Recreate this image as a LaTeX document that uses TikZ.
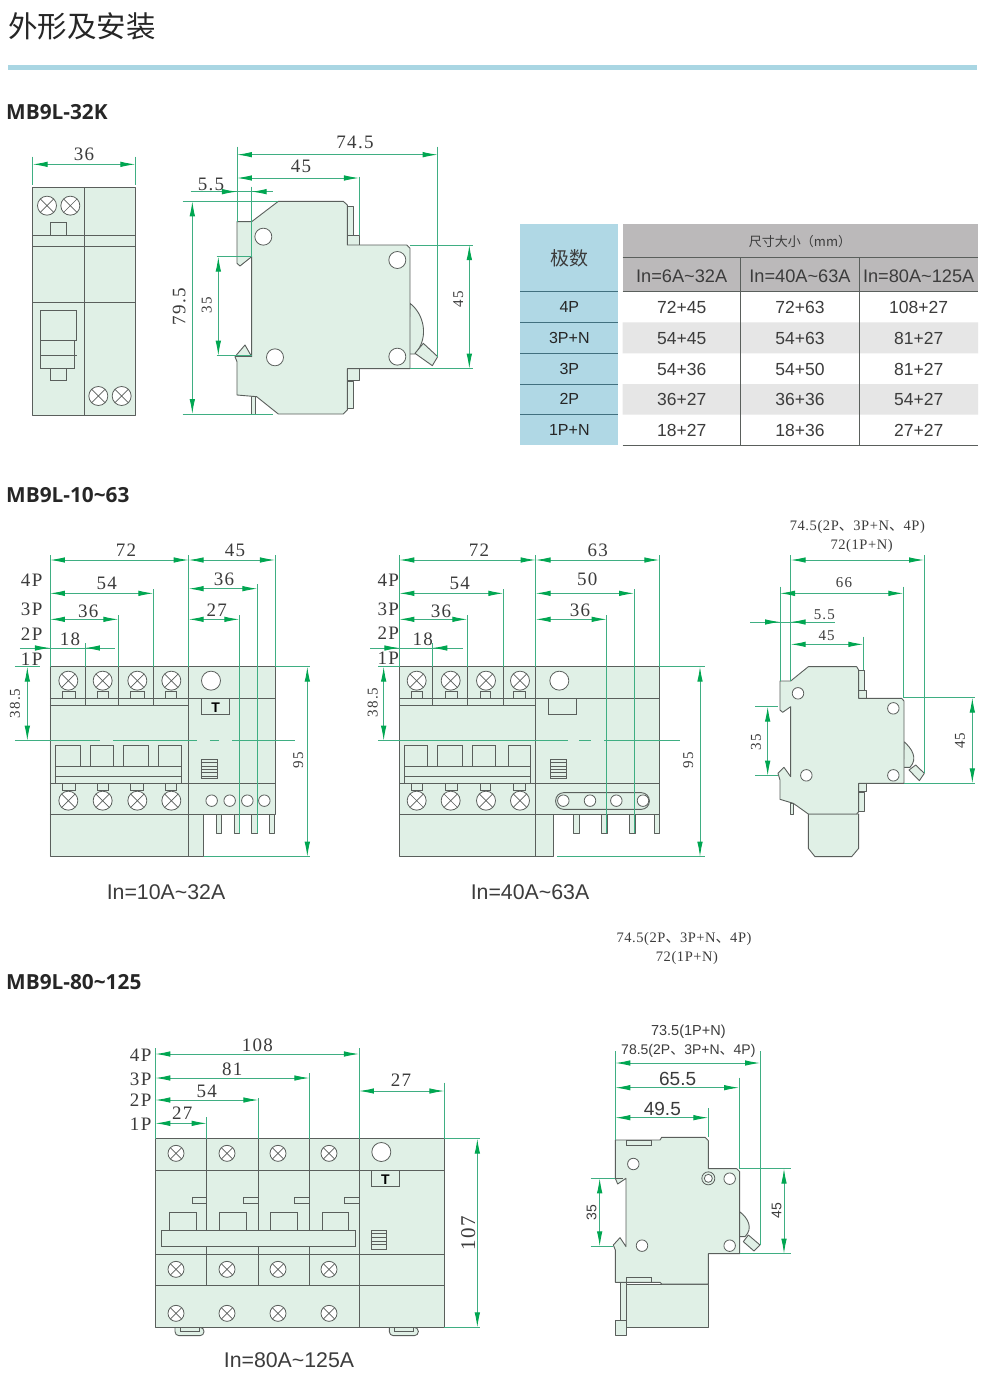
\documentclass[tikz,border=0pt]{standalone}
\usepackage{fontspec}
\setmainfont{Liberation Sans}
\newfontfamily\cjkfont{Noto Sans CJK SC}
\newfontfamily\headfont{Open Sans}
\newfontfamily\dimfont[LetterSpace=7]{Liberation Serif}
\newfontfamily\notefont[LetterSpace=4]{Liberation Serif}
\usetikzlibrary{arrows.meta}
\definecolor{bodygreen}{HTML}{E0F0E6}
\definecolor{linegray}{HTML}{5A5F5C}
\definecolor{extgreen}{HTML}{3FAE82}
\definecolor{tipgreen}{HTML}{00A651}
\definecolor{ruleblue}{HTML}{A9D6E3}
\definecolor{polecell}{HTML}{B0D8E5}
\definecolor{polerule}{HTML}{41707F}
\definecolor{headgray}{HTML}{BBB9BA}
\definecolor{rowgray}{HTML}{E6E6E6}
\definecolor{textgray}{HTML}{3C3C3C}
\begin{document}
\begin{tikzpicture}[x=1pt,y=-1pt]
\tikzstyle{crop} = [x=0.33333pt,y=-0.33333pt];
\tikzstyle{body} = [draw=linegray,fill=bodygreen,line width=0.9pt,line join=round];
\tikzstyle{part} = [draw=linegray,line width=0.9pt];
\tikzstyle{hole} = [circle,draw=linegray,fill=white,line width=0.8pt,inner sep=0pt];
\tikzstyle{screw} = [hole,path picture={\draw[linegray,line width=0.7pt] (path picture bounding box.south west) -- (path picture bounding box.north east) (path picture bounding box.north west) -- (path picture bounding box.south east);}];
\tikzstyle{extline} = [draw=extgreen,line width=0.9pt];
\tikzstyle{dimline} = [extline,{Latex[length=15pt,width=5.5pt,color=tipgreen]}-{Latex[length=15pt,width=5.5pt,color=tipgreen]}];
\tikzstyle{tipline} = [extline,-{Latex[length=15pt,width=5.5pt,color=tipgreen]}];
\tikzstyle{dimtext} = [font=\fontsize{19}{19}\dimfont,text=textgray,inner sep=0pt];
\tikzstyle{smalltext} = [font=\fontsize{15}{15}\dimfont,text=textgray,inner sep=0pt];
\tikzstyle{notetext} = [font=\fontsize{14.5}{14.5}\notefont,text=textgray,inner sep=0pt];
\tikzstyle{capt} = [font=\fontsize{21.3}{21.3}\selectfont,text=textgray,inner sep=0pt];
\tikzstyle{cell} = [font=\fontsize{17.5}{17.5}\selectfont,text=textgray,inner sep=0pt];
\tikzstyle{headcell} = [font=\fontsize{18.2}{18.2}\selectfont,text=textgray,inner sep=0pt];
\tikzstyle{polet} = [font=\fontsize{16}{16}\selectfont,text=black!85,inner sep=0pt];
\tikzstyle{heading} = [font=\fontsize{20.8}{20.8}\headfont\bfseries,text=black!85,inner sep=0pt,anchor=west];
\useasboundingbox (0,0) rectangle (985,1377);
\fill[white] (0,0) rectangle (985,1377);

\node[font=\fontsize{29.5}{29.5}\cjkfont,text=black!85,inner sep=0pt,anchor=west] (title) at (8,26) {外形及安装};
\fill[ruleblue] (8,64.5) rectangle (977,69.5);
\node[heading] (head1) at (6,112) {MB9L-32K};
\node[heading] (head2) at (6,495) {MB9L-10\textasciitilde 63};
\node[heading] (head3) at (6,982) {MB9L-80\textasciitilde 125};

% MB9L-32K front
\begin{scope}[shift={(0,130)},crop]
\draw[body] (98,172) rectangle (406,856);
\draw[part] (252,172) -- (252,856) (98,315) -- (406,315) (98,350) -- (406,350) (98,517) -- (406,517);
\draw[part] (152,277) rectangle (200,315) (122,540) rectangle (230,630) (122,630) rectangle (224,714) (122,675) -- (230,675) (152,714) rectangle (200,750);
\node[screw,minimum size=19pt] (f1) at (141,227) {};
\node[screw,minimum size=19pt] (f2) at (211,227) {};
\node[screw,minimum size=19pt] (f3) at (295,798) {};
\node[screw,minimum size=19pt] (f4) at (365,798) {};
\draw[extline] (98,80) -- (98,165) (406,80) -- (406,165);
\draw[dimline] (98,103) -- (406,103);
\node[dimtext] (d36a) at (252,73) {36};
\end{scope}

% MB9L-32K side
\begin{scope}[shift={(0,130)},crop]
\draw[body] (1042,228) rectangle (1060,315) (1042,315) rectangle (1077,345) (1042,716) rectangle (1077,750) (1042,755) rectangle (1060,835) (755,800) rectangle (767,852);
\draw[body] (1230,520) .. controls (1270,550) and (1290,620) .. (1245,672) -- (1225,672) -- cycle;
\draw[body] (1245,670) -- (1270,640) -- (1313,680) -- (1297,707) -- cycle;
\draw[body] (711,275) -- (755,275) -- (835,214) -- (1030,214) -- (1042,225) -- (1042,345) -- (1220,345) -- (1230,355) -- (1230,716) -- (1042,716) -- (1042,840) -- (1030,852) -- (835,852) -- (770,800) -- (711,795) -- (711,695) -- (705,680) -- (735,645) -- (755,680) -- (755,380) -- (720,408) -- (711,400) -- cycle;
\draw[part] (711,275) -- (755,275) -- (755,380) (705,680) -- (755,680);
\node[hole,minimum size=17pt] (c1) at (790,320) {};
\node[hole,minimum size=17pt] (c2) at (1192,390) {};
\node[hole,minimum size=17pt] (c3) at (825,682) {};
\node[hole,minimum size=17pt] (c4) at (1192,680) {};
\draw[extline] (711,50) -- (711,275) (755,170) -- (755,380) (1077,140) -- (1077,315) (1313,50) -- (1313,680);
\draw[extline] (548,214) -- (835,214) (548,852) -- (820,852) (650,380) -- (755,380) (650,677) -- (755,677) (1230,345) -- (1418,345) (1230,716) -- (1418,716) (572,185) -- (818,185);
\draw[dimline] (711,74) -- (1313,74);
\draw[dimline] (711,144) -- (1077,144);
\draw[dimline] (577,214) -- (577,852);
\draw[dimline] (655,380) -- (655,677);
\draw[dimline] (1408,345) -- (1408,716);
\draw[tipline] (680,185) -- (711,185);
\draw[tipline] (786,185) -- (755,185);
\node[dimtext] (d745a) at (1065,37) {74.5};
\node[dimtext] (d45a) at (903,108) {45};
\node[dimtext] (d55a) at (633,162) {5.5};
\node[dimtext,rotate=90] (d795) at (538,530) {79.5};
\node[smalltext,rotate=90] (d35a) at (620,525) {35};
\node[smalltext,rotate=90] (d45b) at (1375,508) {45};
\end{scope}

% size table
\begin{scope}[shift={(510,215)},crop]
\fill[polecell] (30,28) rectangle (325,690);
\fill[headgray] (338,28) rectangle (1404,230);
\fill[rowgray] (338,322) rectangle (1404,415) (338,507) rectangle (1404,599);
\draw[polerule,line width=1pt] (30,230) -- (325,230) (30,322) -- (325,322) (30,415) -- (325,415) (30,507) -- (325,507) (30,599) -- (325,599);
\draw[linegray,line width=1pt] (338,128) -- (1404,128) (338,230) -- (1404,230) (338,690) -- (1404,690) (692,128) -- (692,690) (1048,128) -- (1048,690);
\node[font=\fontsize{19}{19}\cjkfont,text=textgray,inner sep=0pt] (poles) at (178,130) {极数};
\node[font=\fontsize{13}{13}\cjkfont,text=textgray,inner sep=0pt] (size) at (870,80) {尺寸大小（mm）};
\node[headcell] (h1) at (515,183) {In=6A\textasciitilde 32A};
\node[headcell] (h2) at (870,183) {In=40A\textasciitilde 63A};
\node[headcell] (h3) at (1226,183) {In=80A\textasciitilde 125A};
\node[polet] (p1) at (178,277) {4P};
\node[polet] (p2) at (178,370) {3P+N};
\node[polet] (p3) at (178,463) {3P};
\node[polet] (p4) at (178,553) {2P};
\node[polet] (p5) at (178,645) {1P+N};
\node[cell] (a1) at (515,277) {72+45};
\node[cell] (b1) at (870,277) {72+63};
\node[cell] (e1) at (1226,277) {108+27};
\node[cell] (a2) at (515,370) {54+45};
\node[cell] (b2) at (870,370) {54+63};
\node[cell] (e2) at (1226,370) {81+27};
\node[cell] (a3) at (515,463) {54+36};
\node[cell] (b3) at (870,463) {54+50};
\node[cell] (e3) at (1226,463) {81+27};
\node[cell] (a4) at (515,553) {36+27};
\node[cell] (b4) at (870,553) {36+36};
\node[cell] (e4) at (1226,553) {54+27};
\node[cell] (a5) at (515,645) {18+27};
\node[cell] (b5) at (870,645) {18+36};
\node[cell] (e5) at (1226,645) {27+27};
\end{scope}

% MB9L-10~63, In=10A~32A
\begin{scope}[shift={(0,530)},crop]
\draw[body] (150,410) rectangle (825,852) (150,852) rectangle (611,980);
\draw[part] (566,410) -- (566,980) (150,505) -- (825,505) (150,525) -- (566,525) (150,760) -- (825,760) (150,852) -- (825,852) (255,410) -- (255,525) (355,410) -- (355,525) (460,410) -- (460,525);
\draw[part] (187,483) rectangle (227,505) (292,483) rectangle (325,505) (390,483) rectangle (432,505) (495,483) rectangle (530,505);
\draw[part] (187,760) rectangle (227,782) (292,760) rectangle (325,782) (390,760) rectangle (430,782) (497,760) rectangle (530,782);
\draw[part] (165,645) rectangle (241,710) (270,645) rectangle (340,710) (370,645) rectangle (446,710) (475,645) rectangle (545,710) (165,710) rectangle (545,760) (165,738) -- (545,738);
\draw[part] (605,505) rectangle (688,552) (603,688) rectangle (651,745) (603,698) -- (651,698) (603,708) -- (651,708) (603,718) -- (651,718) (603,728) -- (651,728) (603,738) -- (651,738);
\node[font=\fontsize{14}{14}\selectfont\bfseries,inner sep=0pt] (test1) at (647,533) {T};
\draw[body] (649,852) rectangle (665,910) (702,852) rectangle (718,910) (755,852) rectangle (771,910) (808,852) rectangle (824,910);
\node[screw,minimum size=19pt] (g1) at (205,452) {};
\node[screw,minimum size=19pt] (g2) at (308,452) {};
\node[screw,minimum size=19pt] (g3) at (412,452) {};
\node[screw,minimum size=19pt] (g4) at (514,452) {};
\node[screw,minimum size=19pt] (g5) at (205,812) {};
\node[screw,minimum size=19pt] (g6) at (308,812) {};
\node[screw,minimum size=19pt] (g7) at (412,812) {};
\node[screw,minimum size=19pt] (g8) at (514,812) {};
\node[hole,minimum size=19pt] (g9) at (633,452) {};
\node[hole,minimum size=11.5pt] (g10) at (635,812) {};
\node[hole,minimum size=11.5pt] (g11) at (689,812) {};
\node[hole,minimum size=11.5pt] (g12) at (742,812) {};
\node[hole,minimum size=11.5pt] (g13) at (793,812) {};
\draw[extline] (150,75) -- (150,410) (255,340) -- (255,410) (355,255) -- (355,410) (460,178) -- (460,410) (566,75) -- (566,410) (825,75) -- (825,410) (718,255) -- (718,910) (772,162) -- (772,910);
\draw[extline] (45,410) -- (120,410) (825,410) -- (930,410) (611,980) -- (930,980) (60,354) -- (345,354);
\draw[extline] (45,632) -- (300,632) (340,632) -- (590,632) (630,632) -- (658,632) (697,632) -- (885,632);
\draw[dimline] (150,90) -- (566,90);
\draw[dimline] (566,90) -- (825,90);
\draw[dimline] (150,190) -- (460,190);
\draw[dimline] (150,268) -- (355,268);
\draw[dimline] (566,176) -- (772,176);
\draw[dimline] (566,268) -- (718,268);
\draw[dimline] (922,410) -- (922,980);
\draw[dimline] (82,410) -- (82,632);
\draw[tipline] (105,354) -- (150,354);
\draw[tipline] (303,354) -- (255,354);
\node[dimtext] (e72) at (378,60) {72};
\node[dimtext] (e45) at (705,62) {45};
\node[dimtext] (e54) at (320,160) {54};
\node[dimtext] (e36) at (265,243) {36};
\node[dimtext] (e18) at (210,328) {18};
\node[dimtext] (e36r) at (672,147) {36};
\node[dimtext] (e27) at (650,240) {27};
\node[dimtext] (e4p) at (95,152) {4P};
\node[dimtext] (e3p) at (95,237) {3P};
\node[dimtext] (e2p) at (95,312) {2P};
\node[dimtext] (e1p) at (95,388) {1P};
\node[smalltext,rotate=90] (e385) at (45,520) {38.5};
\node[smalltext,rotate=90] (e95) at (895,690) {95};
\end{scope}
\node[capt] (cap1) at (166,892) {In=10A\textasciitilde 32A};

% MB9L-10~63, In=40A~63A
\begin{scope}[shift={(360,530)},crop]
\draw[body] (118,410) rectangle (898,852) (118,852) rectangle (581,980);
\draw[part] (527,410) -- (527,980) (118,505) -- (898,505) (118,525) -- (527,525) (118,760) -- (898,760) (118,852) -- (898,852) (217,410) -- (217,525) (322,410) -- (322,525) (430,410) -- (430,525);
\draw[part] (155,483) rectangle (188,505) (255,483) rectangle (292,505) (360,483) rectangle (392,505) (460,483) rectangle (497,505);
\draw[part] (155,760) rectangle (188,782) (255,760) rectangle (292,782) (360,760) rectangle (392,782) (460,760) rectangle (497,782);
\draw[part] (134,645) rectangle (202,710) (232,645) rectangle (308,710) (337,645) rectangle (407,710) (445,645) rectangle (512,710) (134,710) rectangle (512,760) (134,738) -- (512,738);
\draw[part] (565,505) rectangle (650,553) (572,688) rectangle (620,745) (572,698) -- (620,698) (572,708) -- (620,708) (572,718) -- (620,718) (572,728) -- (620,728) (572,738) -- (620,738);
\draw[part] (587,788) [rounded corners=8pt] rectangle (868,838);
\draw[body] (640,852) rectangle (658,910) (724,852) rectangle (741,910) (807,852) rectangle (825,910) (883,852) rectangle (898,910);
\node[screw,minimum size=19pt] (k1) at (170,452) {};
\node[screw,minimum size=19pt] (k2) at (272,452) {};
\node[screw,minimum size=19pt] (k3) at (378,452) {};
\node[screw,minimum size=19pt] (k4) at (480,452) {};
\node[screw,minimum size=19pt] (k5) at (170,812) {};
\node[screw,minimum size=19pt] (k6) at (272,812) {};
\node[screw,minimum size=19pt] (k7) at (378,812) {};
\node[screw,minimum size=19pt] (k8) at (480,812) {};
\node[hole,minimum size=19pt] (k9) at (598,452) {};
\node[hole,minimum size=11.5pt] (k10) at (610,812) {};
\node[hole,minimum size=11.5pt] (k11) at (690,812) {};
\node[hole,minimum size=11.5pt] (k12) at (769,812) {};
\node[hole,minimum size=11.5pt] (k13) at (849,812) {};
\draw[extline] (118,75) -- (118,410) (217,340) -- (217,410) (322,255) -- (322,410) (430,178) -- (430,410) (527,75) -- (527,410) (898,75) -- (898,410) (740,255) -- (740,910) (822,178) -- (822,910);
\draw[extline] (55,410) -- (118,410) (898,410) -- (1035,410) (592,980) -- (1035,980) (30,354) -- (308,354);
\draw[extline] (55,632) -- (625,632) (657,632) -- (693,632) (733,632) -- (960,632);
\draw[dimline] (118,90) -- (527,90);
\draw[dimline] (527,90) -- (898,90);
\draw[dimline] (118,190) -- (430,190);
\draw[dimline] (118,268) -- (322,268);
\draw[dimline] (527,190) -- (822,190);
\draw[dimline] (527,268) -- (740,268);
\draw[dimline] (1020,410) -- (1020,980);
\draw[dimline] (71,410) -- (71,632);
\draw[tipline] (75,354) -- (118,354);
\draw[tipline] (265,354) -- (217,354);
\node[dimtext] (m72) at (357,62) {72};
\node[dimtext] (m63) at (713,62) {63};
\node[dimtext] (m54) at (299,160) {54};
\node[dimtext] (m50) at (682,147) {50};
\node[dimtext] (m36) at (243,243) {36};
\node[dimtext] (m36r) at (660,240) {36};
\node[dimtext] (m18) at (188,328) {18};
\node[dimtext] (m4p) at (85,152) {4P};
\node[dimtext] (m3p) at (85,237) {3P};
\node[dimtext] (m2p) at (85,310) {2P};
\node[dimtext] (m1p) at (85,385) {1P};
\node[smalltext,rotate=90] (m385) at (38,517) {38.5};
\node[smalltext,rotate=90] (m95) at (985,690) {95};
\end{scope}
\node[capt] (cap2) at (530,892) {In=40A\textasciitilde 63A};

% MB9L-10~63 side
\begin{scope}[shift={(740,510)},crop]
\draw[body] (205,912) -- (205,1015) -- (225,1040) -- (335,1040) -- (356,1015) -- (356,912) -- cycle;
\draw[body] (356,480) rectangle (372,540) (356,540) rectangle (380,565) (356,820) rectangle (380,843) (356,848) rectangle (372,905) (151,880) rectangle (160,912);
\draw[body] (492,695) .. controls (515,715) and (535,745) .. (510,772) -- (490,772) -- cycle;
\draw[body] (507,780) -- (527,765) -- (553,790) -- (538,812) -- cycle;
\draw[body] (120,513) -- (152,513) -- (205,470) -- (350,470) -- (356,480) -- (356,565) -- (485,565) -- (492,573) -- (492,820) -- (356,820) -- (356,905) -- (350,912) -- (205,912) -- (160,880) -- (120,868) -- (120,810) -- (114,790) -- (132,772) -- (152,800) -- (152,590) -- (128,607) -- (120,600) -- cycle;
\node[hole,minimum size=11.5pt] (n1) at (174,550) {};
\node[hole,minimum size=11.5pt] (n2) at (460,595) {};
\node[hole,minimum size=11.5pt] (n3) at (199,796) {};
\node[hole,minimum size=11.5pt] (n4) at (460,796) {};
\draw[extline] (152,135) -- (152,513) (120,230) -- (120,513) (490,230) -- (490,565) (370,380) -- (370,480) (552,135) -- (552,790);
\draw[extline] (45,590) -- (115,590) (45,797) -- (115,797) (492,563) -- (705,563) (492,820) -- (705,820) (30,336) -- (285,336);
\draw[dimline] (152,150) -- (552,150);
\draw[dimline] (120,250) -- (490,250);
\draw[dimline] (152,403) -- (370,403);
\draw[dimline] (697,563) -- (697,820);
\draw[dimline] (83,590) -- (83,797);
\draw[tipline] (75,336) -- (120,336);
\draw[tipline] (195,336) -- (152,336);
\node[notetext] (n745) at (352,50) {74.5(2P{\cjkfont 、}3P+N{\cjkfont 、}4P)};
\node[notetext] (n72) at (365,108) {72(1P+N)};
\node[smalltext] (n66) at (312,218) {66};
\node[smalltext] (n55) at (253,315) {5.5};
\node[smalltext] (n45) at (260,378) {45};
\node[smalltext,rotate=90] (n45r) at (660,692) {45};
\node[smalltext,rotate=90] (n35) at (48,697) {35};
\end{scope}

\node[notetext] (u745) at (684,939) {74.5(2P{\cjkfont 、}3P+N{\cjkfont 、}4P)};
\node[notetext] (u72) at (687,958) {72(1P+N)};

% MB9L-80~125 front
\begin{scope}[shift={(120,1030)},crop]
\draw[body] (165,892) [rounded corners=4pt] -- (165,917) -- (252,917) -- (252,892) [sharp corners] -- cycle (808,892) [rounded corners=4pt] -- (808,917) -- (895,917) -- (895,892) [sharp corners] -- cycle;
\draw[part] (180,892) rectangle (237,905) (823,892) rectangle (880,905);
\draw[body] (106,326) rectangle (973,892);
\draw[part] (717,326) -- (717,892) (106,420) -- (973,420) (106,672) -- (973,672) (106,766) -- (973,766) (260,326) -- (260,600) (415,326) -- (415,600) (569,326) -- (569,600) (260,650) -- (260,766) (415,650) -- (415,766) (569,650) -- (569,766) (260,650) -- (569,650);
\draw[part] (217,502) rectangle (260,521) (370,502) rectangle (415,521) (524,502) rectangle (569,521) (674,502) rectangle (717,521);
\draw[part] (149,548) rectangle (229,600) (298,548) rectangle (379,600) (452,548) rectangle (533,600) (606,548) rectangle (686,600) (125,600) rectangle (706,650);
\draw[part] (753,420) rectangle (838,470) (753,601) rectangle (800,659) (753,611) -- (800,611) (753,622) -- (800,622) (753,633) -- (800,633) (753,644) -- (800,644);
\node[font=\fontsize{14}{14}\selectfont\bfseries,inner sep=0pt] (test2) at (796,450) {T};
\node[screw,minimum size=16pt] (r1) at (168,370) {};
\node[screw,minimum size=16pt] (r2) at (321,370) {};
\node[screw,minimum size=16pt] (r3) at (474,370) {};
\node[screw,minimum size=16pt] (r4) at (627,370) {};
\node[screw,minimum size=16pt] (r5) at (168,718) {};
\node[screw,minimum size=16pt] (r6) at (321,718) {};
\node[screw,minimum size=16pt] (r7) at (474,718) {};
\node[screw,minimum size=16pt] (r8) at (627,718) {};
\node[screw,minimum size=16pt] (r9) at (168,850) {};
\node[screw,minimum size=16pt] (r10) at (321,850) {};
\node[screw,minimum size=16pt] (r11) at (474,850) {};
\node[screw,minimum size=16pt] (r12) at (627,850) {};
\node[hole,minimum size=19pt] (r13) at (784,366) {};
\draw[extline] (106,55) -- (106,326) (260,262) -- (260,326) (415,205) -- (415,326) (568,130) -- (568,326) (717,55) -- (717,326) (973,158) -- (973,326);
\draw[extline] (973,326) -- (1080,326) (973,892) -- (1080,892);
\draw[dimline] (106,72) -- (717,72);
\draw[dimline] (106,144) -- (568,144);
\draw[dimline] (106,210) -- (415,210);
\draw[dimline] (106,280) -- (260,280);
\draw[dimline] (717,183) -- (973,183);
\draw[dimline] (1072,326) -- (1072,892);
\node[dimtext] (r108) at (412,45) {108};
\node[dimtext] (r81) at (337,118) {81};
\node[dimtext] (r54) at (260,185) {54};
\node[dimtext] (r27) at (187,250) {27};
\node[dimtext] (r27r) at (843,150) {27};
\node[dimtext] (r4p) at (62,75) {4P};
\node[dimtext] (r3p) at (62,147) {3P};
\node[dimtext] (r2p) at (62,212) {2P};
\node[dimtext] (r1p) at (62,282) {1P};
\node[dimtext,font=\fontsize{21}{21}\dimfont,rotate=90] (r107) at (1045,610) {107};
\end{scope}
\node[capt] (cap3) at (289,1360) {In=80A\textasciitilde 125A};

% MB9L-80~125 side
\begin{scope}[shift={(570,1015)},crop]
\draw[body] (168,807) rectangle (415,938);
\draw[body] (150,802) rectangle (168,915) (136,915) rectangle (168,960);
\draw[body] (509,590) .. controls (535,610) and (550,640) .. (525,665) -- (505,665) -- cycle;
\draw[body] (520,680) -- (535,660) -- (570,690) -- (552,708) -- cycle;
\draw[body] (136,375) -- (270,375) -- (275,367) -- (405,367) -- (415,377) -- (415,461) -- (500,461) -- (509,470) -- (509,716) -- (415,716) -- (415,807) -- (275,807) -- (270,802) -- (136,802) -- (136,705) -- (130,690) -- (150,668) -- (168,695) -- (168,490) -- (143,507) -- (136,490) -- cycle;
\draw[part] (168,376) rectangle (245,392) (168,786) rectangle (245,802) (136,490) -- (158,490);
\node[hole,minimum size=11.5pt] (q1) at (190,447) {};
\node[hole,minimum size=11.5pt] (q2) at (479,491) {};
\node[hole,minimum size=11.5pt] (q3) at (216,692) {};
\node[hole,minimum size=11.5pt] (q4) at (479,692) {};
\node[hole,fill=bodygreen,minimum size=13pt] (q5) at (415,490) {};
\node[hole,minimum size=8pt] (q6) at (415,490) {};
\draw[extline] (136,108) -- (136,375) (507,188) -- (507,461) (415,280) -- (415,367) (570,108) -- (570,690);
\draw[extline] (509,461) -- (662,461) (509,716) -- (662,716) (62,490) -- (135,490) (62,694) -- (130,694);
\draw[dimline] (136,144) -- (570,144);
\draw[dimline] (136,218) -- (507,218);
\draw[dimline] (136,308) -- (415,308);
\draw[dimline] (642,461) -- (642,716);
\draw[dimline] (89,490) -- (89,694);
\node[font=\fontsize{14.5}{14.5}\selectfont,text=textgray,inner sep=0pt] (q735) at (355,50) {73.5(1P+N)};
\node[font=\fontsize{14}{14}\selectfont,text=textgray,inner sep=0pt] (q785) at (355,108) {78.5(2P{\cjkfont 、}3P+N{\cjkfont 、}4P)};
\node[font=\fontsize{19}{19}\selectfont,text=textgray,inner sep=0pt] (q655) at (323,193) {65.5};
\node[font=\fontsize{19}{19}\selectfont,text=textgray,inner sep=0pt] (q495) at (277,282) {49.5};
\node[font=\fontsize{14}{14}\selectfont,text=textgray,inner sep=0pt,rotate=90] (q35) at (65,592) {35};
\node[font=\fontsize{14}{14}\selectfont,text=textgray,inner sep=0pt,rotate=90] (q45) at (620,587) {45};
\end{scope}
\end{tikzpicture}
\end{document}
